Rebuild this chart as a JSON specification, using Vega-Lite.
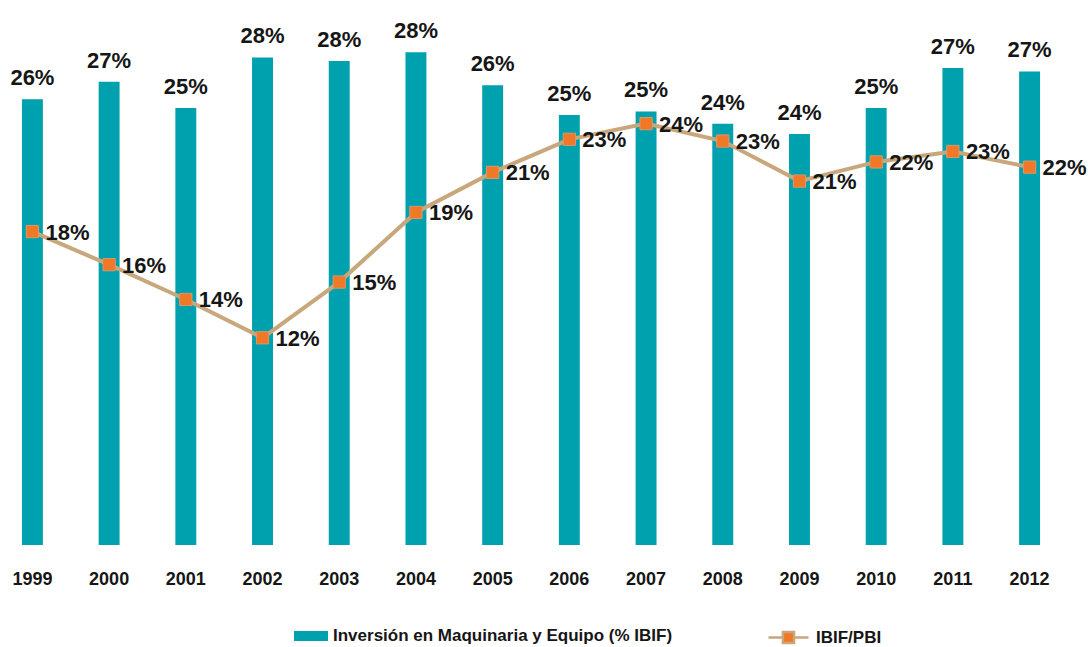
{
  "$schema": "https://vega.github.io/schema/vega-lite/v6.json",
  "width": 1062,
  "height": 545,
  "autosize": {"type": "none"},
  "padding": {"left": 0, "top": 0, "right": 26, "bottom": 102},
  "background": "white",
  "config": {
    "view": {"stroke": null},
    "font": "Liberation Sans",
    "text": {"font": "Liberation Sans", "fontWeight": "bold", "fontSize": 22, "color": "#161616"}
  },
  "data": {
    "values": [
      {"year": "1999", "inv": 0.256, "ibif": 0.180},
      {"year": "2000", "inv": 0.266, "ibif": 0.161},
      {"year": "2001", "inv": 0.251, "ibif": 0.141},
      {"year": "2002", "inv": 0.280, "ibif": 0.119},
      {"year": "2003", "inv": 0.278, "ibif": 0.151},
      {"year": "2004", "inv": 0.283, "ibif": 0.191},
      {"year": "2005", "inv": 0.264, "ibif": 0.214},
      {"year": "2006", "inv": 0.247, "ibif": 0.233},
      {"year": "2007", "inv": 0.249, "ibif": 0.242},
      {"year": "2008", "inv": 0.242, "ibif": 0.232},
      {"year": "2009", "inv": 0.236, "ibif": 0.209},
      {"year": "2010", "inv": 0.251, "ibif": 0.220},
      {"year": "2011", "inv": 0.274, "ibif": 0.226},
      {"year": "2012", "inv": 0.272, "ibif": 0.217}
    ]
  },
  "encoding": {
    "x": {
      "field": "year", "type": "ordinal",
      "scale": {"paddingInner": 0.727, "paddingOuter": 0.286},
      "axis": {"title": null, "labelAngle": 0, "domain": false, "ticks": false,
        "labelFont": "Liberation Sans", "labelFontWeight": "bold", "labelFontSize": 18,
        "labelColor": "#161616", "labelPadding": 25}
    }
  },
  "layer": [
    {
      "mark": {"type": "bar"},
      "encoding": {
        "y": {"field": "inv", "type": "quantitative", "scale": {"domain": [0, 0.313], "nice": false, "zero": true}, "axis": null},
        "fill": {"datum": "Inversión en Maquinaria y Equipo (% IBIF)", "type": "nominal",
          "scale": {"range": ["#00A1AE"]},
          "legend": {"title": null, "orient": "none", "legendX": 294, "legendY": 619,
            "symbolType": "M-1,-0.3H1V0.3H-1Z", "symbolSize": 1156, "symbolStrokeWidth": 0,
            "labelFont": "Liberation Sans", "labelFontWeight": "bold", "labelFontSize": 17,
            "labelColor": "#161616", "labelOffset": 5, "labelLimit": 0}
        }
      }
    },
    {
      "mark": {"type": "text", "baseline": "alphabetic", "dy": -14},
      "encoding": {
        "y": {"field": "inv", "type": "quantitative"},
        "text": {"field": "inv", "type": "quantitative", "format": ".0%"}
      }
    },
    {
      "mark": {"type": "line", "strokeWidth": 4, "color": "#C9A77C"},
      "encoding": {
        "y": {"field": "ibif", "type": "quantitative"},
        "stroke": {"datum": "IBIF/PBI", "type": "nominal",
          "scale": {"range": ["#C9A77C"]},
          "legend": {"title": null, "orient": "none", "legendX": 767, "legendY": 616,
            "symbolType": "M-1,0H-0.28M0.28,0H1M-0.28,-0.28H0.28V0.28H-0.28Z", "symbolSize": 1600, "symbolStrokeWidth": 2.5,
            "labelFont": "Liberation Sans", "labelFontWeight": "bold", "labelFontSize": 17,
            "labelColor": "#161616", "labelOffset": 6, "labelLimit": 0,
            "symbolFillColor": "#F07826",
            "encode": {"symbols": {"update": {"fill": {"value": "#F07826"}, "fillOpacity": {"value": 1}, "opacity": {"value": 1}}}}}
        }
      }
    },
    {
      "mark": {"type": "square", "size": 150, "filled": true, "color": "#F07826", "stroke": "#D89A6A", "strokeWidth": 1, "opacity": 1},
      "encoding": {
        "y": {"field": "ibif", "type": "quantitative"}
      }
    },
    {
      "mark": {"type": "text", "align": "left", "baseline": "middle", "dx": 13, "dy": 1},
      "encoding": {
        "y": {"field": "ibif", "type": "quantitative"},
        "text": {"field": "ibif", "type": "quantitative", "format": ".0%"}
      }
    }
  ]
}
